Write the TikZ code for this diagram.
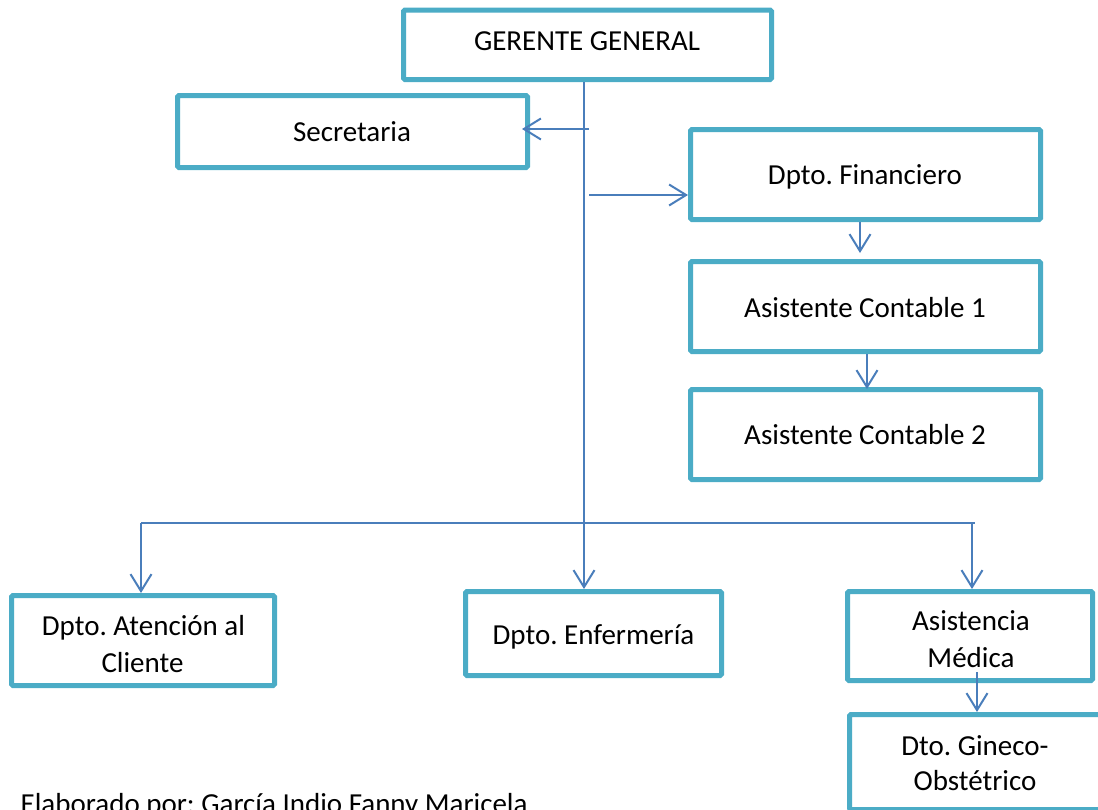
\documentclass[tikz,border=0pt]{standalone}
\usepackage{fontspec}
\setmainfont{Carlito}
\usetikzlibrary{arrows.meta}
\definecolor{boxline}{HTML}{4BACC6}
\definecolor{linkline}{HTML}{4A7EBB}
\frenchspacing
\begin{document}
\begin{tikzpicture}[x=1pt,y=-1pt,
  orgbox/.style={draw=boxline, line width=5pt, rounded corners=1.5pt,
                 fill=white, inner sep=0pt},
  lbl/.style={anchor=base, inner sep=0pt, text=black,
              font=\fontsize{29}{36}\selectfont},
  link/.style={draw=linkline, line width=2pt},
  arr/.style={link, -{Straight Barb[length=17pt, width=21pt, line width=2pt]}},
  bus/.style={draw=linkline, line width=1.5pt}]
\useasboundingbox (0,0) rectangle (1098,809);
\clip (0,0) rectangle (1098,809);

% boxes
\node[orgbox, minimum width=368pt, minimum height=69.5pt] (gg)  at (587.5,44.75) {};
\node[orgbox, minimum width=350pt, minimum height=72pt]   (sec) at (352.5,131.5) {};
\node[orgbox, minimum width=350pt, minimum height=90pt]   (fin) at (865.5,174.5) {};
\node[orgbox, minimum width=350pt, minimum height=90pt]   (ac1) at (865.5,306.5) {};
\node[orgbox, minimum width=350pt, minimum height=90pt]   (ac2) at (865.5,434.5) {};
\node[orgbox, minimum width=263pt, minimum height=90pt]   (aten) at (143,640.5) {};
\node[orgbox, minimum width=256pt, minimum height=84pt]   (enf) at (593.5,633.5) {};
\node[orgbox, minimum width=245pt, minimum height=89pt]   (med) at (970,636) {};
\node[orgbox, minimum width=251pt, minimum height=95pt]   (gin) at (975,762) {};

% connector end points
\coordinate (secsrc) at (589,129);
\coordinate (finsrc) at (589,195);
\coordinate (busL) at (141,523);
\coordinate (busR) at (975,523);
\coordinate (busM) at (972,523);

% main trunk from the manager down to nursing
\draw[arr] ([xshift=-3.5pt]gg.south) -- ([xshift=-3.5pt]gg.south |- enf.north);
\draw[arr, shorten >=-8pt] (secsrc) -- (secsrc -| sec.east);
\draw[arr] (finsrc) -- (finsrc -| fin.west);
\draw[arr, shorten >=6pt] ([xshift=-5.5pt]fin.south) -- ([xshift=-5.5pt]fin.south |- ac1.north);
\draw[arr, shorten >=-2pt] ([xshift=1.5pt]ac1.south) -- ([xshift=1.5pt]ac1.south |- ac2.north);

% lower distribution bus
\draw[bus] (busL) -- (busR);
\draw[arr] (busL) -- (busL |- aten.north);
\draw[arr] (busM) -- (busM |- med.north);
\draw[arr] ([xshift=7pt,yshift=11pt]med.south) -- ([xshift=2pt]gin.north);

% labels
\node[lbl] (ggt)  at (587,50)    {GERENTE GENERAL};
\node[lbl] (sect) at (352,141.7) {Secretaria};
\node[lbl] (fint) at (865,184)   {Dpto. Financiero};
\node[lbl] (ac1t) at (865,317)   {Asistente Contable 1};
\node[lbl] (ac2t) at (865,444)   {Asistente Contable 2};
\node[lbl] (atena) at (143.5,635) {Dpto. Atención al};
\node[lbl] (atenb) at (142.5,672) {Cliente};
\node[lbl] (enft) at (593.5,644) {Dpto. Enfermería};
\node[lbl] (meda) at (971,630)   {Asistencia};
\node[lbl] (medb) at (971,667)   {Médica};
\node[lbl] (gina) at (975,755)   {Dto. Gineco-};
\node[lbl] (ginb) at (975,790)   {Obstétrico};
\node[lbl, anchor=base west] (author) at (20.5,813.5) {Elaborado por: García Indio Fanny Maricela};
\end{tikzpicture}
\end{document}
